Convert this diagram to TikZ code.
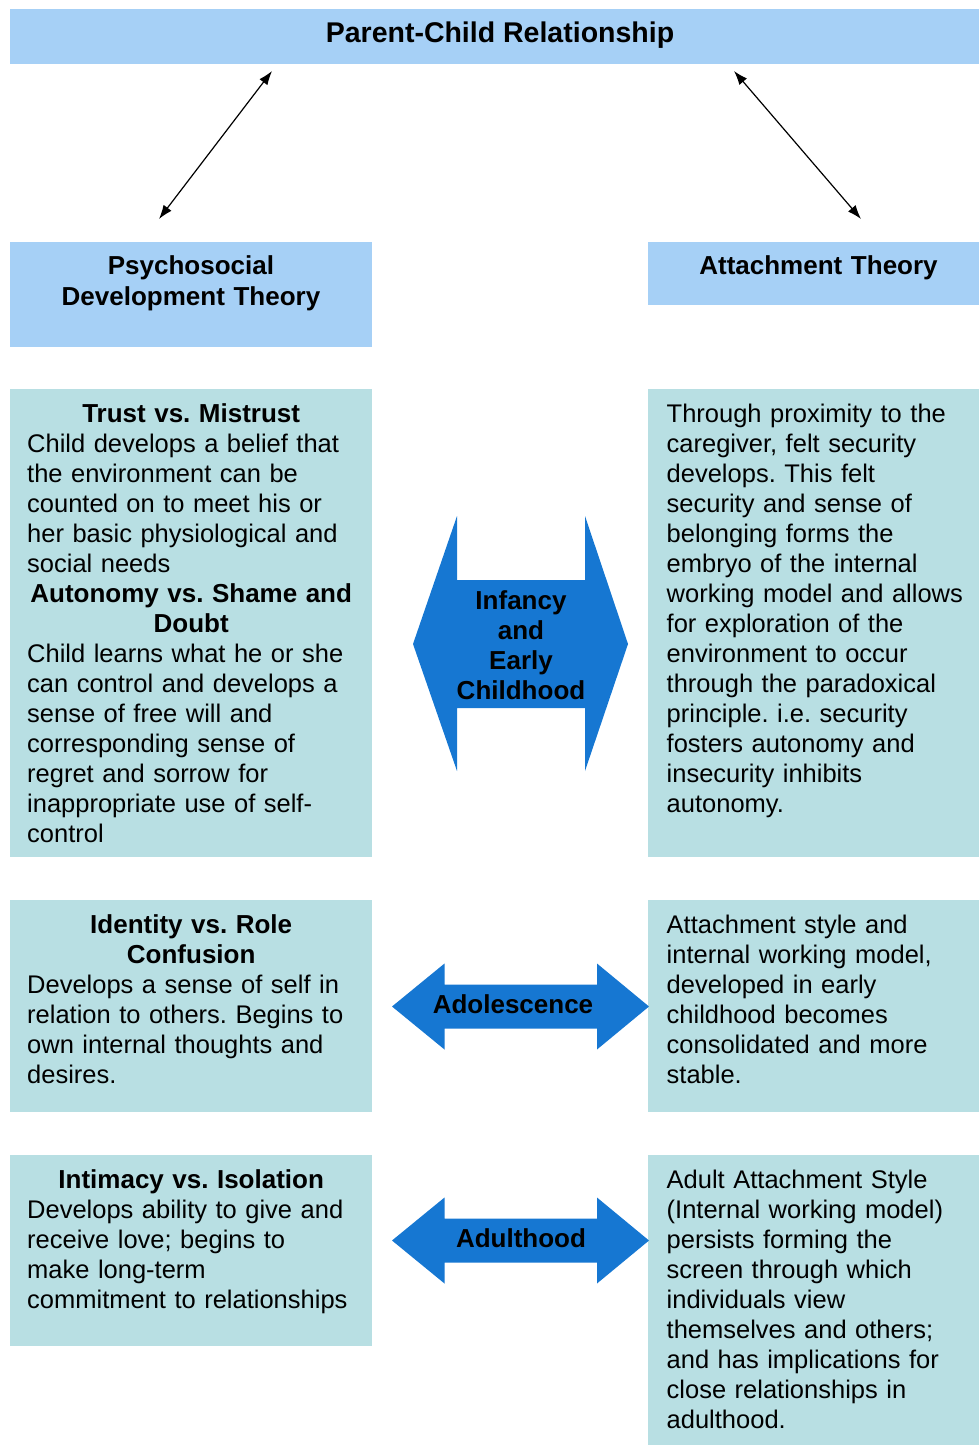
\documentclass[tikz,border=0pt]{standalone}
\usepackage{fontspec}
\setmainfont{Liberation Sans}
\usetikzlibrary{arrows.meta}
\definecolor{hdrblue}{RGB}{166,208,246}
\definecolor{boxteal}{RGB}{184,223,227}
\definecolor{arrblue}{RGB}{22,119,210}
\newcommand\hdline[1]{\makebox[328pt][c]{\fontsize{26}{30}\selectfont\bfseries #1}}
\frenchspacing
\begin{document}
\frenchspacing
\begin{tikzpicture}[x=1pt,y=-1pt,
  hdr/.style={fill=hdrblue, draw=none, inner sep=0pt, anchor=north west},
  panel/.style={fill=boxteal, draw=none, inner sep=0pt, anchor=north west},
  bodytext/.style={anchor=base west, inner sep=0pt, text width=350pt, align=left,
    font=\fontsize{25.5}{30}\selectfont\frenchspacing},
  hdrtext/.style={anchor=base, inner sep=0pt, text width=360pt, align=center,
    font=\fontsize{26}{31}\selectfont\bfseries},
  arrtext/.style={anchor=base, inner sep=0pt, text width=220pt, align=center,
    font=\fontsize{26}{30}\selectfont\bfseries},
  bigarrow/.style={fill=arrblue, draw=none},
  link/.style={{Latex[length=14pt,width=10pt]}-{Latex[length=14pt,width=10pt]}, line width=1.2pt, black}
]
\useasboundingbox (0,0) rectangle (979,1445);

% boxes
\node[hdr, minimum width=969pt, minimum height=55pt] (titlebox) at (10,9) {};
\node[hdr, minimum width=362pt, minimum height=105pt] (lhdr) at (10,242) {};
\node[hdr, minimum width=331pt, minimum height=63pt] (rhdr) at (648,242) {};
\node[panel, minimum width=362pt, minimum height=468pt] (l1) at (10,389) {};
\node[panel, minimum width=331pt, minimum height=468pt] (r1) at (648,389) {};
\node[panel, minimum width=362pt, minimum height=212pt] (l2) at (10,900) {};
\node[panel, minimum width=331pt, minimum height=212pt] (r2) at (648,900) {};
\node[panel, minimum width=362pt, minimum height=191pt] (l3) at (10,1155) {};
\node[panel, minimum width=331pt, minimum height=290pt] (r3) at (648,1155) {};

% headings
\node[anchor=base, inner sep=0pt, font=\fontsize{28.5}{32}\selectfont\bfseries] (title) at (500,43) {Parent-Child Relationship};
\node[hdrtext] (lhdrtext) at (191,274) {Psychosocial\\Development Theory};
\node[hdrtext] (rhdrtext) at (818.5,274) {Attachment Theory};

% connectors
\coordinate (lt) at (272,71);
\coordinate (lb) at (159,219);
\coordinate (rt) at (734,71);
\coordinate (rb) at (861,219);
\draw[link] (lt) -- (lb);
\draw[link] (rt) -- (rb);

% left texts
\node[bodytext] (l1text) at (27,422) {\hdline{Trust vs. Mistrust}\\
Child develops a belief that\\
the environment can be\\
counted on to meet his or\\
her basic physiological and\\
social needs\\
\hdline{Autonomy vs. Shame and}\\
\hdline{Doubt}\\
Child learns what he or she\\
can control and develops a\\
sense of free will and\\
corresponding sense of\\
regret and sorrow for\\
inappropriate use of self-\\
control};

\node[bodytext] (l2text) at (27,933) {\hdline{Identity vs. Role}\\
\hdline{Confusion}\\
Develops a sense of self in\\
relation to others. Begins to\\
own internal thoughts and\\
desires.};

\node[bodytext] (l3text) at (27,1188) {\hdline{Intimacy vs. Isolation}\\
Develops ability to give and\\
receive love; begins to\\
make long-term\\
commitment to relationships};

% right texts
\node[bodytext] (r1text) at (666.5,422) {Through proximity to the\\
caregiver, felt security\\
develops. This felt\\
security and sense of\\
belonging forms the\\
embryo of the internal\\
working model and allows\\
for exploration of the\\
environment to occur\\
through the paradoxical\\
principle. i.e. security\\
fosters autonomy and\\
insecurity inhibits\\
autonomy.};

\node[bodytext] (r2text) at (666.5,933) {Attachment style and\\
internal working model,\\
developed in early\\
childhood becomes\\
consolidated and more\\
stable.};

\node[bodytext] (r3text) at (666.5,1188) {Adult Attachment Style\\
(Internal working model)\\
persists forming the\\
screen through which\\
individuals view\\
themselves and others;\\
and has implications for\\
close relationships in\\
adulthood.};

% blue double arrows
\fill[bigarrow] (413,644) -- (457,516) -- (457,580) -- (585,580) -- (585,516) -- (628,644)
  -- (585,771) -- (585,708) -- (457,708) -- (457,771) -- cycle;
\fill[bigarrow] (392,1006.5) -- (444.5,963.5) -- (444.5,984.5) -- (597,984.5) -- (597,963.5)
  -- (649,1006.5) -- (597,1049.5) -- (597,1028.5) -- (444.5,1028.5) -- (444.5,1049.5) -- cycle;
\fill[bigarrow] (392,1240.5) -- (444.5,1197.5) -- (444.5,1218.5) -- (597,1218.5) -- (597,1197.5)
  -- (649,1240.5) -- (597,1283.5) -- (597,1262.5) -- (444.5,1262.5) -- (444.5,1283.5) -- cycle;

\node[arrtext] (a1text) at (521,609) {Infancy\\and\\Early\\Childhood};
\node[arrtext] (a2text) at (513,1013) {Adolescence};
\node[arrtext] (a3text) at (521,1247) {Adulthood};
\end{tikzpicture}
\end{document}
